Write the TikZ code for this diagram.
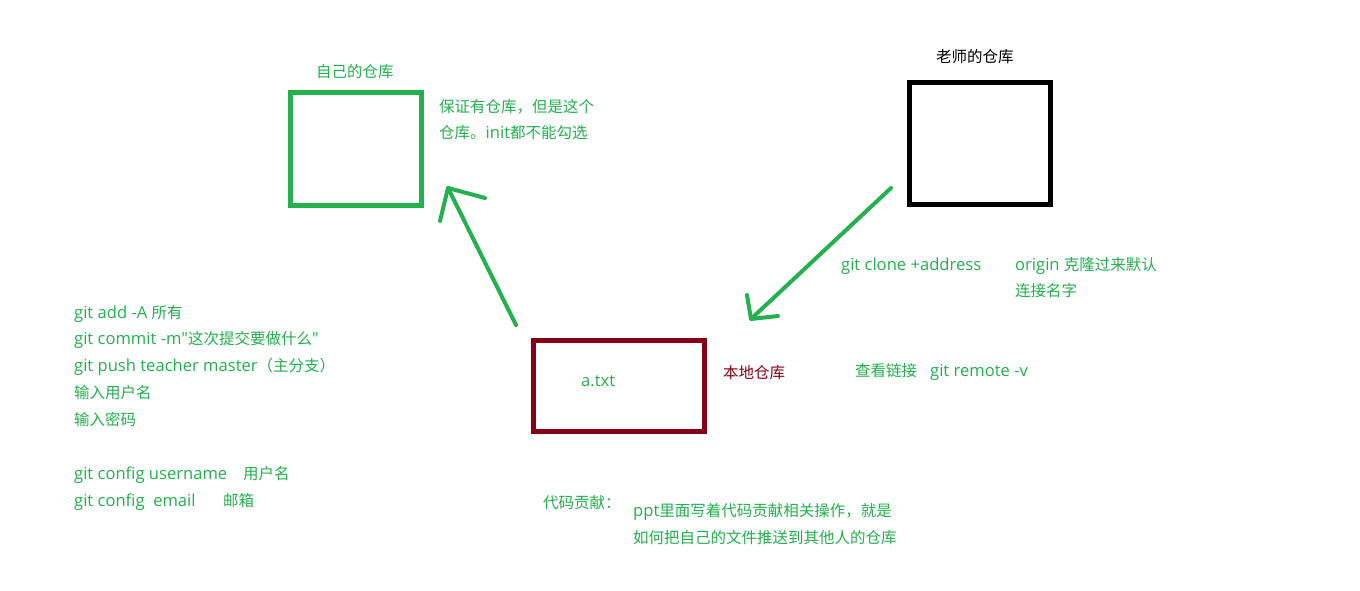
\documentclass[tikz,border=0pt]{standalone}
\usepackage{fontspec}
\setmainfont{Noto Sans CJK SC}
\newfontfamily\lat{Open Sans}[Scale=1.07]
\begin{document}
\begin{tikzpicture}[x=1pt,y=-1pt,
  repo/.style={draw,line width=5pt,inner sep=0pt},
  stroke/.style={draw=pgreen,line width=4pt,line cap=round,line join=round},
  txt/.style={anchor=base west,inner sep=0pt,font=\fontsize{15.5}{18}\selectfont,text=pgreen},
]
\definecolor{pgreen}{HTML}{22B14C}
\definecolor{pred}{HTML}{880015}
\useasboundingbox[fill=white] (0,0) rectangle (1360,591);

% repositories
\node[repo,draw=pgreen,minimum width=131pt,minimum height=113pt] (own) at (356,149) {};
\node[repo,draw=black,minimum width=141pt,minimum height=122pt] (teacher) at (980,143.5) {};
\node[repo,draw=pred,minimum width=171pt,minimum height=91pt] (local) at (619,386) {};

% push arrow: local -> own repository
\coordinate (pushTail) at (516,325);
\coordinate (pushTip) at (448,188);
\coordinate (pushL) at (440,221);
\coordinate (pushR) at (485,198);
\draw[stroke] (pushTail) -- (pushTip);
\draw[stroke] (pushL) -- (pushTip) -- (pushR);

% clone arrow: teacher -> local
\coordinate (cloneTail) at (891,188);
\coordinate (cloneTip) at (751,319);
\coordinate (cloneL) at (747,295);
\coordinate (cloneR) at (778,316);
\draw[stroke] (cloneTail) -- (cloneTip);
\draw[stroke] (cloneL) -- (cloneTip) -- (cloneR);

% labels
\node[txt] (ownLbl) at (316,78) {自己的仓库};
\node[txt] (ownNote1) at (439,113) {保证有仓库，但是这个};
\node[txt] (ownNote2) at (439,139) {仓库。{\lat init}都不能勾选};
\node[txt,text=black] (teacherLbl) at (936,63) {老师的仓库};

\node[txt] (fileLbl) at (581,386) {\lat a.txt};
\node[txt,text=pred] (localLbl) at (723,378) {本地仓库};

\node[txt] (clone) at (841,270) {\lat git clone +address};
\node[txt] (origin1) at (1015,270) {{\lat origin }克隆过来默认};
\node[txt] (origin2) at (1015,296) {连接名字};
\node[txt] (remote) at (855,376) {\makebox[75pt][l]{查看链接}{\lat git remote -v}};

% command list
\node[txt] (c1) at (74,318) {{\lat git add -A }所有};
\node[txt] (c2) at (74,344) {{\lat git commit -m"}这次提交要做什么{\lat "}};
\node[txt] (c3) at (74,371) {{\lat git push teacher master}（主分支）};
\node[txt] (c4) at (74,398) {输入用户名};
\node[txt] (c5) at (74,425) {输入密码};
\node[txt] (c6) at (74,479) {\makebox[169pt][l]{\lat git config username}用户名};
\node[txt] (c7) at (74,506) {\makebox[149pt][l]{\lat git config\ \ email}邮箱};

% contribution notes
\node[txt] (contrib) at (543,508) {代码贡献：};
\node[txt] (contrib1) at (633,516) {{\lat ppt}里面写着代码贡献相关操作，就是};
\node[txt] (contrib2) at (633,543) {如何把自己的文件推送到其他人的仓库};
\end{tikzpicture}
\end{document}
